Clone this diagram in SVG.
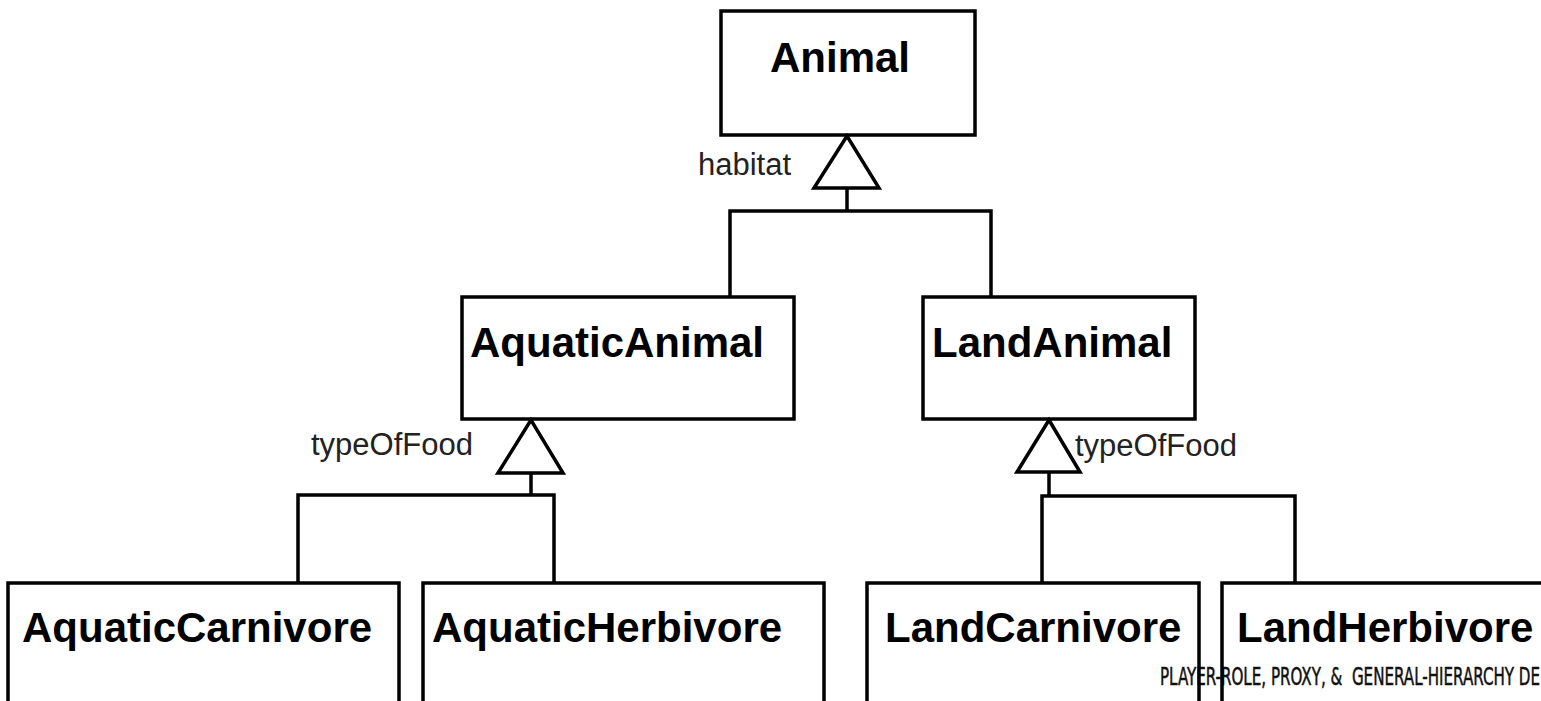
<svg xmlns="http://www.w3.org/2000/svg" width="1541" height="701" viewBox="0 0 1541 701">
<style>
.box{fill:none;stroke:#000;stroke-width:3.5}
.name{font-family:"Liberation Sans",Arial,sans-serif;font-weight:bold;font-size:42px;fill:#000}
.lbl{font-family:"Liberation Sans",Arial,sans-serif;font-size:31px;fill:#222}
.conn{fill:none;stroke:#000;stroke-width:3.5}
.tri{fill:#fff;stroke:#000;stroke-width:3.5;stroke-linejoin:miter}
.foot{font-family:"DejaVu Sans Condensed","Liberation Sans Narrow",sans-serif;font-size:24px;fill:#111;stroke:#111;stroke-width:0.5}
</style>
<rect x="0" y="0" width="1541" height="701" fill="#fff"/>
<text class="foot" x="1160" y="685" xml:space="preserve" textLength="380" lengthAdjust="spacingAndGlyphs">PLAYER-ROLE, PROXY, &amp;  GENERAL-HIERARCHY DE</text>
<g id="connectors">
<polyline class="conn" points="730,297 730,211 991,211 991,297"/>
<line class="conn" x1="847" y1="188" x2="847" y2="211"/>
<polygon class="tri" points="847,136 814,188 879,188"/>
<text class="lbl" x="698" y="175">habitat</text>
<polyline class="conn" points="298,582 298,495 554,495 554,582"/>
<line class="conn" x1="531" y1="473" x2="531" y2="495"/>
<polygon class="tri" points="531,420 498,473 563,473"/>
<text class="lbl" x="311" y="455">typeOfFood</text>
<polyline class="conn" points="1042,582 1042,496 1295,496 1295,582"/>
<line class="conn" x1="1049" y1="472" x2="1049" y2="496"/>
<polygon class="tri" points="1049,420 1017,472 1080,472"/>
<text class="lbl" x="1075" y="456">typeOfFood</text>
</g>
<g id="animal">
<rect class="box" x="721" y="11" width="254" height="124"/>
<text class="name" x="770" y="72">Animal</text>
</g>
<g id="aquaticAnimal">
<rect class="box" x="462" y="297" width="332" height="122"/>
<text class="name" x="470" y="357">AquaticAnimal</text>
</g>
<g id="landAnimal">
<rect class="box" x="923" y="297" width="272" height="122"/>
<text class="name" x="932" y="357">LandAnimal</text>
</g>
<g id="aquaticCarnivore">
<rect class="box" x="8" y="583" width="391" height="140"/>
<text class="name" x="22" y="642">AquaticCarnivore</text>
</g>
<g id="aquaticHerbivore">
<rect class="box" x="423" y="583" width="401" height="140"/>
<text class="name" x="432" y="642">AquaticHerbivore</text>
</g>
<g id="landCarnivore">
<rect class="box" x="867" y="583" width="332" height="140"/>
<text class="name" x="885" y="642">LandCarnivore</text>
</g>
<g id="landHerbivore">
<rect class="box" x="1222" y="583" width="340" height="140"/>
<text class="name" x="1237" y="642">LandHerbivore</text>
</g>
</svg>
